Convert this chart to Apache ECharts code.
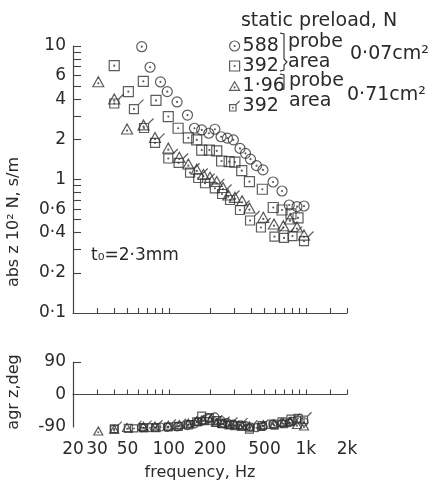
<!DOCTYPE html>
<html><head><meta charset="utf-8">
<script src="https://cdn.jsdelivr.net/npm/echarts@6/dist/echarts.min.js"></script>
<style>html,body{margin:0;padding:0;background:#fff}#c{width:433px;height:484px}</style>
</head><body><div id="c"></div>
<script>
// ---- data (frequency Hz, abs z, phase deg) ----
const circFreq = [63.5,73,87,97.5,115,137,154,174,196,217,241,268,296,331,363,395,437,487,577,671,757,863,971];
const circAbs  = [9.88,6.93,5.38,4.55,3.81,3.04,2.42,2.35,2.22,2.38,2.09,2.04,1.98,1.71,1.57,1.42,1.27,1.18,0.958,0.82,0.644,0.626,0.633];
const circPhase= [-92,-92,-90,-91,-90,-86,-82,-74,-66,-62,-72,-78,-82,-84,-86,-90,-92,-88,-82,-80,-78,-70,-76];

const sqFreq = [40,50.7,65.2,80.7,99.2,117,139,160,174,198,224,243,276,304,341,388,482,579,671,780,878];
const sqAbs  = [7.12,4.55,5.44,3.91,2.96,2.42,2.05,1.98,1.66,1.66,1.64,1.376,1.36,1.35,1.164,0.963,0.845,0.617,0.591,0.552,0.515];
const sqPhase= [-95,-94,-92,-92,-90,-88,-84,-76,-60,-64,-72,-80,-84,-86,-88,-96,-86,-82,-76,-68,-66];

const triFreq = [30.6,40,49.6,65.4,79.4,99.2,119.4,139,160,179,200,224,249,272,304,343,388,490,586,686,767,863,971];
const triAbs  = [5.31,3.94,2.35,2.52,2.03,1.69,1.44,1.284,1.172,1.071,1.02,0.949,0.856,0.752,0.723,0.682,0.601,0.512,0.456,0.443,0.497,0.433,0.377];
const triPhase= [-104,-99,-94,-91,-90,-88,-86,-82,-76,-72,-74,-80,-82,-84,-86,-88,-90,-86,-84,-80,-78,-86,-90];

const slFreq = [40,55.7,66,79.4,99.2,118,143,164,184,217,245,280,331,392,471,591,694,800,971];
const slAbs  = [3.71,3.37,2.43,1.88,1.437,1.33,1.124,1.026,0.937,0.859,0.779,0.702,0.591,0.493,0.437,0.373,0.365,0.377,0.346];
const slPhase= [-96,-94,-93,-92,-90,-88,-82,-76,-74,-78,-82,-84,-86,-92,-90,-86,-82,-74,-70];

const seriesNames = ['588','392','1·96','392 '];
const freqTicks  = [30,40,50,60,70,80,90,100,200,300,400,500,600,700,800,900,1000,1500,2000];
const freqLabels = [20,30,50,100,200,500,1000,2000];
const absTicks   = [0.2,0.3,0.4,0.5,0.6,0.7,0.8,0.9,1,2,3,4,5,6,7,8,9,10];
const absLabels  = [0.1,0.2,0.4,0.6,1,2,4,6,10];
const phaseTicks = [90];

// ---- style ----
const FONT = '"DejaVu Sans ExtraLight", "DejaVu Sans"';
const INK = '#2a2a2a';
const LINE = '#444';
const P_CIRC = 'path://M0,5A5,5 0 1,1 10,5A5,5 0 1,1 0,5ZM4.5,5A0.5,0.5 0 1,1 5.5,5A0.5,0.5 0 1,1 4.5,5Z';
const P_SQ   = 'path://M0,0L10,0L10,10L0,10ZM4.5,5A0.5,0.5 0 1,1 5.5,5A0.5,0.5 0 1,1 4.5,5Z';
const P_TRI  = 'path://M5,0L10.5,9.5L-0.5,9.5ZM4.5,6.3A0.5,0.5 0 1,1 5.5,6.3A0.5,0.5 0 1,1 4.5,6.3Z';
const P_SL   = 'path://M0,5L9,5L9,14L0,14ZM9,5L14,0M4,9.5A0.5,0.5 0 1,1 5,9.5A0.5,0.5 0 1,1 4,9.5Z';

const zip = (a,b) => a.map((v,i)=>[v,b[i]]);
const itemStyle = {color:'rgba(0,0,0,0)', borderColor:'#333', borderWidth:1.2};

const groups = [
  {name:seriesNames[0], f:circFreq, a:circAbs, p:circPhase, sym:P_CIRC, size:[10,10], small:[8,8], off:[0,0], offS:[0,0]},
  {name:seriesNames[1], f:sqFreq, a:sqAbs, p:sqPhase, sym:P_SQ, size:[10,10], small:[8,8], off:[0,0], offS:[0,0]},
  {name:seriesNames[2], f:triFreq, a:triAbs, p:triPhase, sym:P_TRI, size:[11,10], small:[9,8], off:[0,-1], offS:[0,-1]},
  {name:seriesNames[3], f:slFreq, a:slAbs, p:slPhase, sym:P_SL, size:[14,14], small:[11,11], off:[2.5,-2.5], offS:[2,-2]}
];

const series = [];
groups.forEach(g=>{
  series.push({type:'scatter', name:g.name, xAxisIndex:0, yAxisIndex:0, data:zip(g.f,g.a),
    symbol:g.sym, symbolSize:g.size, symbolOffset:g.off, itemStyle, clip:false, silent:true});
});
groups.forEach((g,i)=>{
  const s = {type:'scatter', name:g.name, xAxisIndex:1, yAxisIndex:1, data:zip(g.f,g.p),
    symbol:g.sym, symbolSize:g.small, symbolOffset:g.offS, itemStyle, clip:false, silent:true};
  if(i===0){
    s.markLine = {silent:true, symbol:'none', label:{show:false},
      lineStyle:{color:LINE, width:1.2, type:'solid'}, data:[{yAxis:0}]};
  }
  series.push(s);
});

const tickLine = {color:LINE, width:1.1};
const xBase = {type:'log', logBase:10, min:20, max:2000, splitLine:{show:false}, minorTick:{show:false},
  axisLine:{show:true, lineStyle:{color:LINE, width:1.2}},
  axisTick:{show:true, inside:true, length:5, customValues:freqTicks, lineStyle:tickLine}};

const fmtAbs = v => { const r = Math.round(v*10)/10; return String(r).replace('.', '·'); };
const fmtF = v => { const r = Math.round(v); return r>=1000 ? (r/1000)+'k' : String(r); };
const txt = (t, x, y, size, align, extra) => Object.assign({type:'text', x, y,
  style:{text:t, font: size+'px '+FONT, fill:INK, textAlign:align||'left', textVerticalAlign:'middle', verticalAlign:'middle'}}, extra||{});

const option = {
  backgroundColor:'#fff',
  animation:false,
  grid:[{left:73, top:46, width:274, height:267},{left:73, top:362, width:274, height:65}],
  xAxis:[
    Object.assign({}, xBase, {gridIndex:0, axisLabel:{show:false}}),
    Object.assign({}, xBase, {gridIndex:1, axisLabel:{show:true, customValues:freqLabels, formatter:fmtF,
      fontFamily:FONT, fontSize:17, color:INK, margin:14}})
  ],
  yAxis:[
    {gridIndex:0, type:'log', logBase:10, min:0.1, max:10, splitLine:{show:false}, minorTick:{show:false},
      axisLine:{show:true, lineStyle:{color:LINE, width:1.2}},
      axisTick:{show:true, inside:true, length:8, customValues:absTicks, lineStyle:tickLine},
      axisLabel:{show:true, customValues:absLabels, formatter:fmtAbs, fontFamily:FONT, fontSize:17, color:INK, margin:7}},
    {gridIndex:1, type:'value', min:-90, max:90, interval:90, splitLine:{show:false},
      axisLine:{show:true, lineStyle:{color:LINE, width:1.2}},
      axisTick:{show:true, inside:true, length:8, customValues:phaseTicks, lineStyle:tickLine},
      axisLabel:{show:true, fontFamily:FONT, fontSize:17, color:INK, margin:7}}
  ],
  legend:{orient:'vertical', left:224, top:31, itemWidth:10, itemHeight:10, itemGap:0,
    selectedMode:false,
    data:[{name:seriesNames[0], icon:P_CIRC},{name:seriesNames[1], icon:P_SQ},{name:seriesNames[2], icon:P_TRI},{name:seriesNames[3], icon:P_SL}],
    formatter: n => n.trim(),
    itemStyle:{color:'rgba(0,0,0,0)', borderColor:'#333', borderWidth:1.2},
    textStyle:{fontFamily:FONT, fontSize:19, color:INK, lineHeight:20, padding:[0,0,0,-2]}},
  graphic:[
    txt('static preload, N', 319, 21, 19, 'center'),
    {type:'polyline', shape:{points:[[280,33],[284,34],[284,59],[287,62],[284,65],[284,70],[280,71]]}, style:{stroke:INK, lineWidth:1.1, fill:null}},
    {type:'polyline', shape:{points:[[280,74],[284,75],[284,89],[280,90]]}, style:{stroke:INK, lineWidth:1.1, fill:null}},
    txt('probe', 288, 42, 19),
    txt('area', 288, 62, 19),
    txt('0·07cm²', 350, 54, 19),
    txt('probe', 289, 81, 19),
    txt('area', 289, 101, 19),
    txt('0·71cm²', 347, 95, 19),
    txt('t₀=2·3mm', 91, 256, 17),
    txt('abs z 10² N, s/m', 14, 222, 16, 'center', {rotation:Math.PI/2}),
    txt('agr z,deg', 14, 392, 16, 'center', {rotation:Math.PI/2}),
    txt('frequency, Hz', 200, 473, 16, 'center')
  ],
  series
};
const chart = echarts.init(document.getElementById('c'), null, {renderer:'canvas'});
chart.setOption(option);
</script></body></html>
